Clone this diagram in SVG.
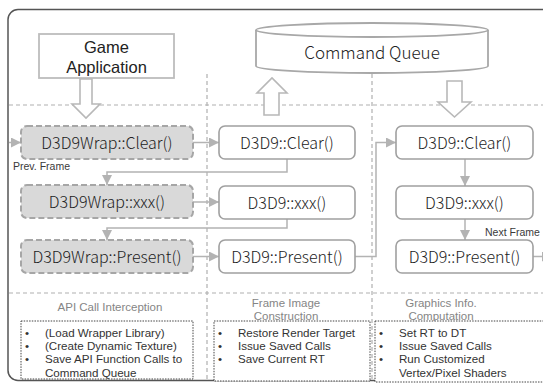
<svg xmlns="http://www.w3.org/2000/svg" width="543" height="384" viewBox="0 0 543 384">
  <defs>
    <marker id="tri" viewBox="0 0 10 10" refX="10" refY="5" markerWidth="10" markerHeight="10" markerUnits="userSpaceOnUse" orient="auto">
      <path d="M0,0 L10,5 L0,10 z" fill="#b3b3b3"/>
    </marker>
    <style>
      .sep { stroke:#b0b0b0; stroke-width:1.2; stroke-dasharray:4 3; fill:none; }
      .wrap { fill:#d9d9d9; stroke:#a6a6a6; stroke-width:2; stroke-dasharray:6 3; }
      .call { fill:#ffffff; stroke:#a0a0a0; stroke-width:1.6; }
      .hollow { fill:#ffffff; stroke:#b8b8b8; stroke-width:1.6; stroke-linejoin:miter; }
      .wire { fill:none; stroke:#b3b3b3; stroke-width:1.5; }
      .note { fill:#ffffff; stroke:#444; stroke-width:1; stroke-dasharray:1.5 1.2; }
      .lbl { font-family:"Noto Sans CJK KR","Open Sans",sans-serif; font-weight:300; fill:#222; }
      .big { font-size:16px; text-anchor:middle; }
      .sm { font-family:"Liberation Sans",Arial,sans-serif; font-weight:400; }
      .small { font-size:10.5px; fill:#3a3a3a; }
      .cap { font-size:11.5px; fill:#858585; text-anchor:middle; }
      .item { font-size:11.6px; fill:#333; }
    </style>
  </defs>

  <rect width="543" height="384" fill="#ffffff"/>

  <!-- outer frame -->
  <rect x="8" y="9.5" width="560" height="371" rx="10" fill="none" stroke="#555" stroke-width="1.5"/>

  <!-- section separators -->
  <g id="separators">
    <line class="sep" x1="9" y1="105" x2="543" y2="105"/>
    <line class="sep" x1="9" y1="293" x2="543" y2="293"/>
    <line class="sep" x1="207" y1="74" x2="207" y2="380"/>
    <line class="sep" x1="372" y1="74" x2="372" y2="380"/>
  </g>

  <!-- game application -->
  <g id="game-app">
    <rect x="39" y="34" width="135" height="44" fill="#ffffff" stroke="#bdbdbd" stroke-width="1.8"/>
    <text class="lbl sm" x="106.5" y="53" font-size="16.5" text-anchor="middle" fill="#3a3a3a">Game</text>
    <text class="lbl sm" x="106.5" y="73" font-size="16.5" text-anchor="middle" fill="#3a3a3a">Application</text>
  </g>

  <!-- command queue -->
  <g id="command-queue">
    <path d="M256,30 L256,66 A116,7 0 0 0 488,66 L488,30" fill="#ffffff" stroke="#a8a8a8" stroke-width="1.8"/>
    <ellipse cx="372" cy="30" rx="116" ry="7" fill="#ffffff" stroke="#a8a8a8" stroke-width="1.8"/>
    <text class="lbl" x="372" y="59" font-size="17" text-anchor="middle">Command  Queue</text>
  </g>

  <!-- hollow block arrows -->
  <g id="block-arrows">
    <path class="hollow" d="M80,79 L92,79 L92,104 L100,104 L86,118 L72,104 L80,104 z"/>
    <path class="hollow" d="M264,115 L279,115 L279,93 L287,93 L272,78 L257,93 L264,93 z"/>
    <path class="hollow" d="M447,81 L462,81 L462,102 L471,102 L454.5,117 L438,102 L447,102 z"/>
  </g>

  <!-- connectors -->
  <g id="connectors">
    <line class="wire" x1="9" y1="142.5" x2="21" y2="142.5" marker-end="url(#tri)"/>
    <line class="wire" x1="193" y1="142.5" x2="219" y2="142.5" marker-end="url(#tri)"/>
    <line class="wire" x1="193" y1="202" x2="219" y2="202" marker-end="url(#tri)"/>
    <line class="wire" x1="193" y1="256.5" x2="219" y2="256.5" marker-end="url(#tri)"/>
    <polyline class="wire" points="287,159 287,172 107,172 107,185" marker-end="url(#tri)"/>
    <polyline class="wire" points="287,218 287,228 107,228 107,240" marker-end="url(#tri)"/>
    <polyline class="wire" points="355,256.5 376,256.5 376,142.5 396,142.5" marker-end="url(#tri)"/>
    <line class="wire" x1="465" y1="159" x2="465" y2="186" marker-end="url(#tri)"/>
    <line class="wire" x1="465" y1="219" x2="465" y2="240" marker-end="url(#tri)"/>
    <line class="wire" x1="533" y1="256.5" x2="552" y2="256.5" marker-end="url(#tri)"/>
  </g>

  <!-- API call interception column -->
  <g id="wrap-clear">
    <rect class="wrap" x="21" y="126" width="172" height="33" rx="6"/>
    <text class="lbl big" x="107" y="148.5">D3D9Wrap::Clear()</text>
  </g>
  <g id="wrap-xxx">
    <rect class="wrap" x="21" y="185" width="172" height="33" rx="6"/>
    <text class="lbl big" x="107" y="207.5">D3D9Wrap::xxx()</text>
  </g>
  <g id="wrap-present">
    <rect class="wrap" x="21" y="240" width="172" height="33" rx="6"/>
    <text class="lbl big" x="107" y="262.5">D3D9Wrap::Present()</text>
  </g>

  <!-- frame image construction column -->
  <g id="fic-clear">
    <rect class="call" x="219" y="126" width="136" height="33" rx="6"/>
    <text class="lbl big" x="287" y="148.5">D3D9::Clear()</text>
  </g>
  <g id="fic-xxx">
    <rect class="call" x="219" y="186" width="136" height="33" rx="6"/>
    <text class="lbl big" x="287" y="208.5">D3D9::xxx()</text>
  </g>
  <g id="fic-present">
    <rect class="call" x="219" y="240" width="136" height="33" rx="6"/>
    <text class="lbl big" x="287" y="262.5">D3D9::Present()</text>
  </g>

  <!-- graphics info computation column -->
  <g id="gic-clear">
    <rect class="call" x="396" y="126" width="137" height="33" rx="6"/>
    <text class="lbl big" x="464.5" y="148.5">D3D9::Clear()</text>
  </g>
  <g id="gic-xxx">
    <rect class="call" x="396" y="186" width="137" height="33" rx="6"/>
    <text class="lbl big" x="464.5" y="208.5">D3D9::xxx()</text>
  </g>
  <g id="gic-present">
    <rect class="call" x="396" y="240" width="137" height="33" rx="6"/>
    <text class="lbl big" x="464.5" y="262.5">D3D9::Present()</text>
  </g>

  <!-- frame labels -->
  <text class="lbl sm small" x="13" y="170">Prev. Frame</text>
  <text class="lbl sm small" x="485" y="236">Next Frame</text>

  <!-- section captions -->
  <text class="lbl sm cap" x="110" y="311">API Call Interception</text>
  <text class="lbl sm cap" x="286" y="307">Frame Image</text>
  <text class="lbl sm cap" x="286" y="320.2">Construction</text>
  <text class="lbl sm cap" x="441" y="307">Graphics Info.</text>
  <text class="lbl sm cap" x="441" y="320.2">Computation</text>

  <!-- step lists -->
  <g id="list-interception">
    <rect class="note" x="21" y="321" width="172" height="58"/>
    <text class="lbl sm item" x="25" y="336.5">•</text>
    <text class="lbl sm item" x="45" y="336.5">(Load Wrapper Library)</text>
    <text class="lbl sm item" x="25" y="349.9">•</text>
    <text class="lbl sm item" x="45" y="349.9">(Create Dynamic Texture)</text>
    <text class="lbl sm item" x="25" y="363.3">•</text>
    <text class="lbl sm item" x="45" y="363.3">Save API Function Calls to</text>
    <text class="lbl sm item" x="45" y="376.7">Command Queue</text>
  </g>
  <g id="list-construction">
    <rect class="note" x="214" y="321" width="156" height="60"/>
    <text class="lbl sm item" x="218" y="336.5">•</text>
    <text class="lbl sm item" x="238" y="336.5">Restore Render Target</text>
    <text class="lbl sm item" x="218" y="349.9">•</text>
    <text class="lbl sm item" x="238" y="349.9">Issue Saved Calls</text>
    <text class="lbl sm item" x="218" y="363.3">•</text>
    <text class="lbl sm item" x="238" y="363.3">Save Current RT</text>
  </g>
  <g id="list-computation">
    <rect class="note" x="375" y="321" width="180" height="61"/>
    <text class="lbl sm item" x="379" y="336.5">•</text>
    <text class="lbl sm item" x="399" y="336.5">Set RT to DT</text>
    <text class="lbl sm item" x="379" y="349.9">•</text>
    <text class="lbl sm item" x="399" y="349.9">Issue Saved Calls</text>
    <text class="lbl sm item" x="379" y="363.3">•</text>
    <text class="lbl sm item" x="399" y="363.3">Run Customized</text>
    <text class="lbl sm item" x="399" y="376.7">Vertex/Pixel Shaders</text>
  </g>
</svg>
